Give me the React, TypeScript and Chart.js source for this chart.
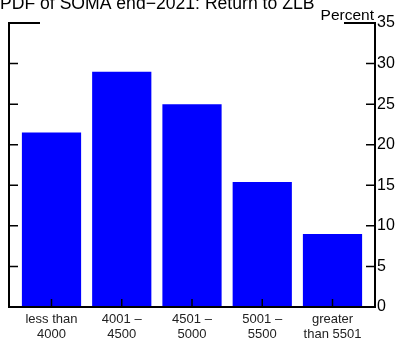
import React, { useEffect, useRef } from "react";
import { Chart, registerables } from "chart.js";

Chart.register(...registerables);

const categories: string[][] = [
  ["less than", "4000"],
  ["4001 –", "4500"],
  ["4501 –", "5000"],
  ["5001 –", "5500"],
  ["greater", "than 5501"],
];
const percentValues: number[] = [21.5, 29.0, 25.0, 15.4, 9.0];
const yTickValues: number[] = [0, 5, 10, 15, 20, 25, 30, 35];
const titleText = "PDF of SOMA end−2021: Return to ZLB";
const unitText = "Percent";

const FONT = "'Liberation Sans', Arial, Helvetica, sans-serif";

const framePlugin = {
  id: "frame",
  afterDatasetsDraw(chart: any) {
    const { ctx, chartArea } = chart;
    const { left, right, top, bottom } = chartArea;
    const y = chart.scales.y;
    const x = chart.scales.x;
    ctx.save();
    ctx.strokeStyle = "#000";
    ctx.lineWidth = 2;
    ctx.lineCap = "butt";
    ctx.beginPath();
    ctx.moveTo(left, top - 1);
    ctx.lineTo(left, bottom + 1);
    ctx.moveTo(right, top - 1);
    ctx.lineTo(right, bottom + 1);
    ctx.moveTo(left - 1, bottom);
    ctx.lineTo(right + 1, bottom);
    ctx.moveTo(left - 1, top);
    ctx.lineTo(left + 31, top);
    ctx.moveTo(right - 31, top);
    ctx.lineTo(right + 1, top);
    ctx.stroke();

    ctx.lineWidth = 1.5;
    ctx.beginPath();
    yTickValues.forEach((v) => {
      if (v === 0 || v === 35) return;
      const py = y.getPixelForValue(v);
      ctx.moveTo(left, py);
      ctx.lineTo(left + 9, py);
      ctx.moveTo(right, py);
      ctx.lineTo(right - 9, py);
    });
    categories.forEach((_, i) => {
      const px = x.getPixelForValue(i);
      ctx.moveTo(px, bottom);
      ctx.lineTo(px, bottom - 8);
    });
    ctx.stroke();

    ctx.fillStyle = "#000";
    ctx.font = `17.6px ${FONT}`;
    ctx.textAlign = "left";
    ctx.textBaseline = "alphabetic";
    ctx.fillText(titleText, 0, 8.5);
    ctx.font = `15.5px ${FONT}`;
    ctx.textAlign = "right";
    ctx.fillText(unitText, 374, 19.5);
    ctx.restore();
  },
};

export default function App() {
  const ref = useRef<HTMLCanvasElement | null>(null);
  useEffect(() => {
    document.body.style.margin = "0";
    const canvas = ref.current;
    if (!canvas) return;
    const chart = new Chart(canvas, {
      type: "bar",
      data: {
        datasets: [
          {
            data: percentValues.map((v, i) => ({ x: i, y: v })),
            backgroundColor: "#0000ff",
            borderWidth: 0,
            barPercentage: 0.843,
            categoryPercentage: 1,
          },
        ],
      },
      options: {
        responsive: false,
        animation: false,
        devicePixelRatio: 1,
        layout: { padding: { left: 9, top: 23, right: 0, bottom: 0 } },
        plugins: {
          legend: { display: false },
          tooltip: { enabled: false },
          title: { display: false },
        },
        scales: {
          x: {
            type: "linear",
            position: "bottom",
            offset: false,
            min: -0.605,
            max: 4.605,
            grid: { display: false, drawTicks: false },
            border: { display: false },
            afterBuildTicks: (scale: any) => {
              scale.ticks = categories.map((_, i) => ({ value: i }));
            },
            afterFit: (scale: any) => {
              scale.height = 34;
            },
            ticks: {
              autoSkip: false,
              maxRotation: 0,
              minRotation: 0,
              padding: 5,
              color: "#222",
              font: { family: FONT, size: 13, lineHeight: 1.15 },
              callback: (v: any) => categories[v as number] ?? "",
            },
          },
          y: {
            type: "linear",
            position: "right",
            min: 0,
            max: 35,
            grid: { display: false, drawTicks: false },
            border: { display: false },
            afterBuildTicks: (scale: any) => {
              scale.ticks = yTickValues.map((v) => ({ value: v }));
            },
            afterFit: (scale: any) => {
              scale.width = 23;
            },
            ticks: {
              padding: 2,
              color: "#000",
              font: { family: FONT, size: 16 },
            },
          },
        },
      },
      plugins: [framePlugin],
    } as any);
    return () => chart.destroy();
  }, []);
  return <canvas ref={ref} width={398} height={341} style={{ display: "block" }} />;
}
